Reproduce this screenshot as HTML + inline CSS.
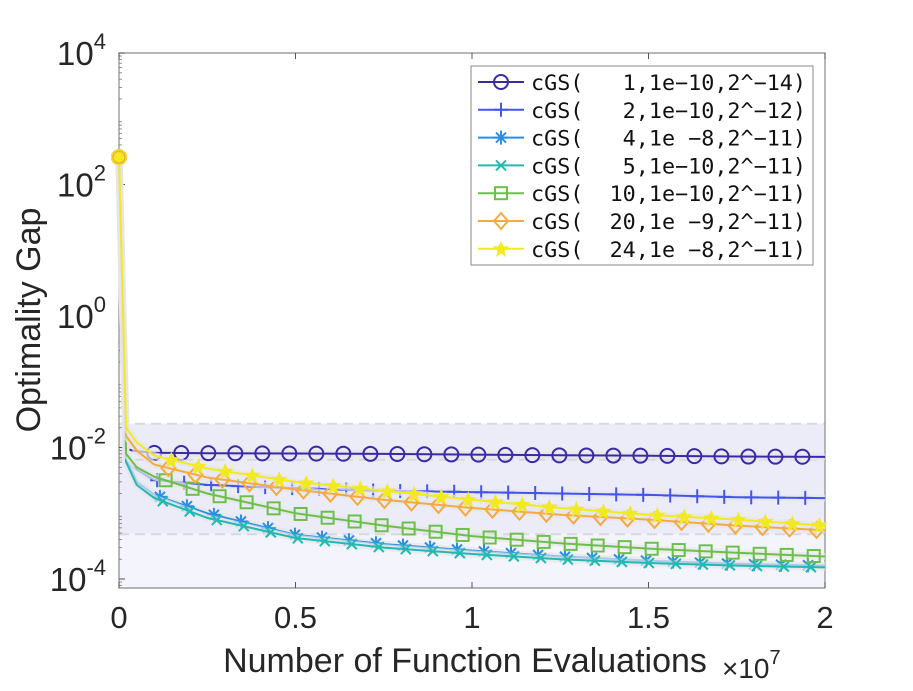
<!DOCTYPE html>
<html><head><meta charset="utf-8"><style>
body{margin:0;background:#fff;}
svg text{font-family:"Liberation Sans",sans-serif;fill:#262626;}
.mono{font-family:"DejaVu Sans Mono","Liberation Mono",monospace;fill:#111;white-space:pre;}
</style></head><body>
<svg id="chart" width="913" height="686" viewBox="0 0 913 686" xmlns="http://www.w3.org/2000/svg">
<g id="bg"></g>
<g id="axes"></g>
<g id="series"></g>
<g id="legend"></g>
</svg>
<script>
const xs = [0, 0.02, 0.05, 0.1, 0.25, 0.5, 0.75, 1, 1.25, 1.5, 1.75, 2];
const s1 = [260, 9.5e-3, 8.8e-3, 8.3e-3, 8.2e-3, 8.1e-3, 8.0e-3, 7.8e-3, 7.6e-3, 7.5e-3, 7.3e-3, 7.2e-3];
const s2 = [260, 6e-3, 4.6e-3, 3.2e-3, 2.7e-3, 2.4e-3, 2.2e-3, 2.1e-3, 2.0e-3, 1.9e-3, 1.75e-3, 1.7e-3];
const s3 = [260, 7e-3, 3e-3, 1.9e-3, 1.0e-3, 4.7e-4, 3.4e-4, 2.7e-4, 2.2e-4, 1.9e-4, 1.7e-4, 1.6e-4];
const s4 = [260, 6e-3, 2.7e-3, 1.7e-3, 8.5e-4, 4.2e-4, 3.0e-4, 2.4e-4, 2.0e-4, 1.75e-4, 1.6e-4, 1.5e-4];
const s5 = [260, 8e-3, 5e-3, 3.6e-3, 2.0e-3, 1.0e-3, 6.5e-4, 4.5e-4, 3.5e-4, 2.9e-4, 2.5e-4, 2.2e-4];
const s6 = [260, 1.5e-2, 9e-3, 5.5e-3, 3.5e-3, 2.3e-3, 1.6e-3, 1.2e-3, 9.5e-4, 8e-4, 6.5e-4, 5.5e-4];
const s7 = [260, 2e-2, 1.2e-2, 7.5e-3, 4.8e-3, 3.0e-3, 2.2e-3, 1.6e-3, 1.2e-3, 9.5e-4, 8e-4, 6.5e-4];
const seriesNames = ["cGS(   1,1e-10,2^-14)","cGS(   2,1e-10,2^-12)","cGS(   4,1e -8,2^-11)","cGS(   5,1e-10,2^-11)","cGS(  10,1e-10,2^-11)","cGS(  20,1e -9,2^-11)","cGS(  24,1e -8,2^-11)"];
const xTicks = [0, 0.5, 1, 1.5, 2];
const yTickExp = [4, 2, 0, -2, -4];

const NS="http://www.w3.org/2000/svg";
const L=119,R=825,T=53,B=588;
const X=v=>L+(v/2)*(R-L);
const Y=v=>T+(4-Math.log10(v))*65.75;
function el(tag,attrs,parent){const e=document.createElementNS(NS,tag);for(const k in attrs)e.setAttribute(k,attrs[k]);parent.appendChild(e);return e;}
const bg=document.getElementById('bg'),ax=document.getElementById('axes'),sg=document.getElementById('series'),lg=document.getElementById('legend');

let r=el('rect',{x:L,y:Y(2.3e-2),width:R-L,height:B-Y(2.3e-2),fill:'#f4f4fc'},bg);


r=el('rect',{x:L,y:Y(2.3e-2),width:R-L,height:Y(4.8e-4)-Y(2.3e-2),fill:'#ececf8'},bg);


[2.3e-2,4.8e-4,6.5e-3].forEach(v=>{const l=el('line',{x1:L,x2:R,y1:Y(v),y2:Y(v),stroke:'#d8d8dc','stroke-width':2,'stroke-dasharray':'10 6'},bg);

});

let box=el('path',{d:`M${L} ${B}V${T}H${R}V${B}Z`,fill:'none',stroke:'#8a8a8a','stroke-width':1.2},ax);


yTickExp.forEach(e=>{
  const y=Y(Math.pow(10,e));
  el('line',{x1:L,x2:L+6,y1:y,y2:y,stroke:'#555'},ax);
  const t=el('text',{x:L-13,y:y+12,'text-anchor':'end','font-size':33},ax);
  
  
  t.innerHTML='10<tspan dy="-16" font-size="22">'+e+'</tspan>';
});
for(let e=-5;e<4;e++)for(let m=2;m<10;m++){const y=Y(m*Math.pow(10,e));if(y>T&&y<B)el('line',{x1:L,x2:L+3,y1:y,y2:y,stroke:'#777','stroke-width':0.8},ax);}
xTicks.forEach(v=>{const x=X(v);el('line',{x1:x,x2:x,y1:B,y2:B-6,stroke:'#555'},ax);el('line',{x1:x,x2:x,y1:T,y2:T+6,stroke:'#555'},ax);
  const t=el('text',{x:x,y:B+40,'text-anchor':'middle','font-size':31},ax);t.textContent=v;
  
  });
let t=el('text',{x:465,y:672,'text-anchor':'middle','font-size':34},ax);t.textContent='Number of Function Evaluations';


t=el('text',{x:722,y:678,'font-size':28},ax);t.innerHTML='×10<tspan dy="-14" font-size="20">7</tspan>';


t=el('text',{x:0,y:0,'text-anchor':'middle','font-size':34,transform:'translate(40,320) rotate(-90)'},ax);t.textContent='Optimality Gap';



const data=[s1,s2,s3,s4,s5,s6,s7];
const colors=['#3a2aa8','#4455ee','#2b8ee6','#22bab0','#6cc04a','#f5aa40','#f2ea20'];
const markers=['o','+','*','x','s','d','p'];
function marker(type,x,y,c,g){const s=7;let e;
  if(type==='o')e=el('circle',{cx:x,cy:y,r:7,fill:'none',stroke:c,'stroke-width':2},g);
  else if(type==='+')e=el('path',{d:`M${x-s} ${y}H${x+s}M${x} ${y-s}V${y+s}`,stroke:c,'stroke-width':2},g);
  else if(type==='x')e=el('path',{d:`M${x-5} ${y-5}L${x+5} ${y+5}M${x-5} ${y+5}L${x+5} ${y-5}`,stroke:c,'stroke-width':2},g);
  else if(type==='*')e=el('path',{d:`M${x-s} ${y}H${x+s}M${x} ${y-s}V${y+s}M${x-5} ${y-5}L${x+5} ${y+5}M${x-5} ${y+5}L${x+5} ${y-5}`,stroke:c,'stroke-width':2},g);
  else if(type==='s')e=el('rect',{x:x-6,y:y-6,width:12,height:12,fill:'none',stroke:c,'stroke-width':2},g);
  else if(type==='d')e=el('path',{d:`M${x} ${y-8}L${x+7} ${y}L${x} ${y+8}L${x-7} ${y}Z`,fill:'none',stroke:c,'stroke-width':2},g);
  else e=el('path',{d:`M${x} ${y-7}L${x+2} ${y-2}L${x+7} ${y-2}L${x+3} ${y+2}L${x+4} ${y+7}L${x} ${y+4}L${x-4} ${y+7}L${x-3} ${y+2}L${x-7} ${y-2}L${x-2} ${y-2}Z`,fill:c,stroke:c},g);
  return e;}
function interp(arr,v){for(let i=0;i<xs.length-1;i++){if(v>=xs[i]&&v<=xs[i+1]){const f=(v-xs[i])/(xs[i+1]-xs[i]);return Math.pow(10,Math.log10(arr[i])*(1-f)+Math.log10(arr[i+1])*f);}}return arr[arr.length-1];}
data.forEach((arr,k)=>{
  const g=el('g',{},sg);
  
  
  const d=arr.map((v,i)=>(i?'L':'M')+X(xs[i]).toFixed(1)+' '+Y(v).toFixed(1)).join('');
  el('path',{d:d,fill:'none',stroke:'#e6e6ea','stroke-width':7,opacity:0.7},g);
  el('path',{d:d,fill:'none',stroke:colors[k],'stroke-width':2},g);
  for(let v=0.1+k*0.008;v<=2.001;v+=0.0765){const m=marker(markers[k],X(v),Y(interp(arr,v)),colors[k],g);
    
    }
  const m0=marker('o',X(0),Y(arr[0]),colors[k],g);
  
  
});
el('circle',{cx:X(0),cy:Y(260),r:6,fill:'#f2ea20',stroke:'#f5aa40','stroke-width':1.5},sg);

let lb=el('rect',{x:471,y:66,width:342,height:199,fill:'#fff',stroke:'#888','stroke-width':1},lg);


seriesNames.forEach((n,k)=>{
  const y=82+k*27.8;
  const g=el('g',{},lg);
  
  
  el('line',{x1:478,x2:524,y1:y,y2:y,stroke:colors[k],'stroke-width':2},g);
  marker(markers[k],501,y,colors[k],g);
  const tt=el('text',{x:531,y:y+8,'font-size':21,class:'mono',textLength:275,lengthAdjust:'spacingAndGlyphs'},g);
  tt.textContent=n.replace(/-/g,'\u2212');
});
</script>
</body></html>
